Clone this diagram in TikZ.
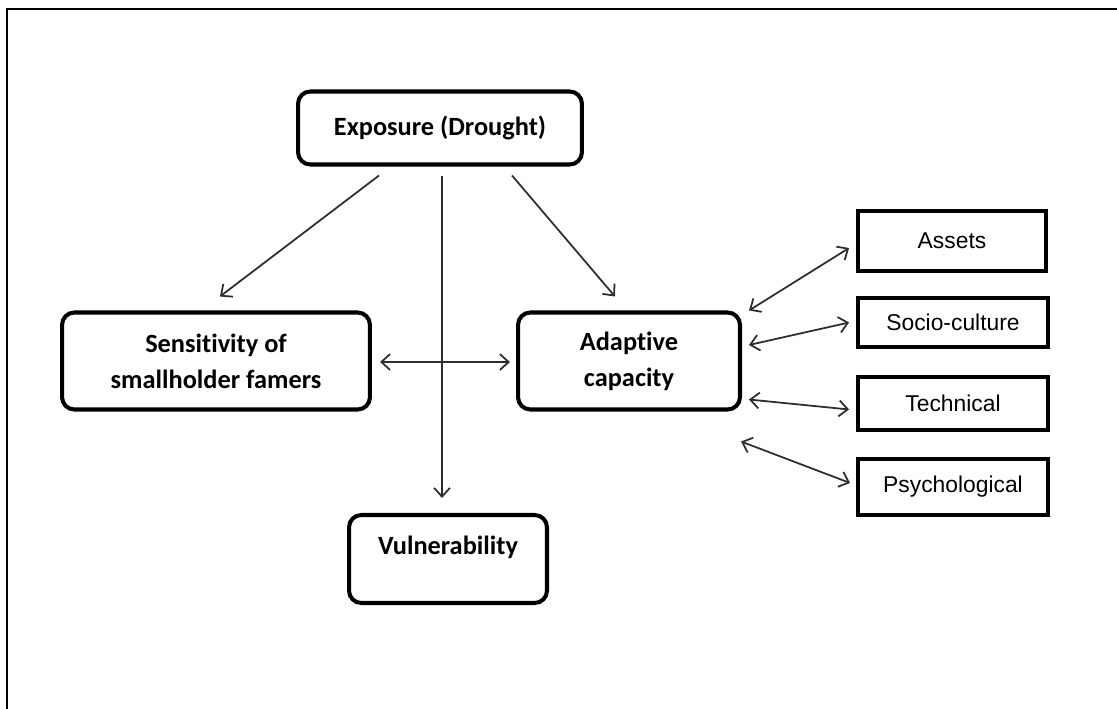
\documentclass[tikz,border=0pt]{standalone}
\usepackage{fontspec}
\setmainfont{Liberation Sans}
\newfontfamily\boxfont[Ligatures=NoCommon]{Carlito}
\usetikzlibrary{arrows.meta,calc}
\definecolor{boxborder}{RGB}{0,0,0}
\definecolor{arrowcol}{RGB}{45,45,45}
\definecolor{framecol}{RGB}{0,0,0}

\begin{document}
\begin{tikzpicture}[
  x=0.02cm, y=-0.02cm,
  >={Straight Barb[length=5pt,width=9pt]},
  font=\fontsize{13}{15}\selectfont,
  block/.style={
    draw=boxborder,
    rounded corners=7pt,
    align=center,
    line width=2.3pt,
    inner sep=3pt,
    font=\boxfont\bfseries\fontsize{15}{20.5}\selectfont
  },
  factor/.style={
    draw=boxborder,
    line width=2.2pt,
    inner sep=3pt,
    minimum width=3.8cm
  },
  flow/.style={->, line width=1pt, color=arrowcol},
  biflow/.style={<->, line width=1pt, color=arrowcol}
]
\useasboundingbox (0,0) rectangle (1117,709);

% ========== Frame ==========
\draw[line width=1.7pt, color=framecol] (7,720) -- (7,9) -- (1125,9);

% ========== Main blocks ==========
\node[block, minimum width=5.68cm, minimum height=1.46cm] (exposure) at (440,128) {Exposure (Drought)};
\node[block, minimum width=6.16cm, minimum height=1.94cm] (sens) at (216,361) {Sensitivity of\\smallholder famers};
\node[block, minimum width=4.44cm, minimum height=1.94cm] (adapt) at (629,361) {Adaptive\\capacity};
\node[block, minimum width=3.96cm, minimum height=1.76cm, text depth=0.55cm] (vuln) at (448,559) {Vulnerability};

% ========== Capacity factors ==========
\node[factor, minimum width=3.76cm, minimum height=1.2cm] (assets) at (952,241) {Assets};
\node[factor, minimum height=0.98cm] (socio) at (953,322.5) {Socio-culture};
\node[factor, minimum height=1.06cm] (tech) at (953,403.5) {Technical};
\node[factor, minimum height=1.12cm] (psych) at (953,487) {Psychological};

% Exposure flows
\draw[flow] ($(exposure.south)+(-61,9)$) -- ($(sens.north)+(4,-14)$);
\draw[flow] ($(exposure.south)+(2,9)$) -- ($(vuln.north)+(-6,-15)$);
\draw[flow] ($(exposure.south)+(72,9)$) -- ($(adapt.north)+(-14,-14)$);

% Sensitivity <-> adaptive capacity
\draw[biflow] ($(sens.east)+(8,1)$) -- ($(adapt.west)+(-6,1)$);

% Adaptive capacity <-> factors
\draw[biflow] ($(adapt.north east)+(7,0)$) -- ($(assets.west)+(-7,7)$);
\draw[biflow] ($(adapt.east)+(7,-16)$) -- ($(socio.west)+(-7,0)$);
\draw[biflow] ($(adapt.south east)+(7,-12)$) -- ($(tech.west)+(-7,6)$);
\draw[biflow] ($(adapt.south east)+(-1,30)$) -- ($(psych.west)+(-6,-4)$);

\end{tikzpicture}
\end{document}
